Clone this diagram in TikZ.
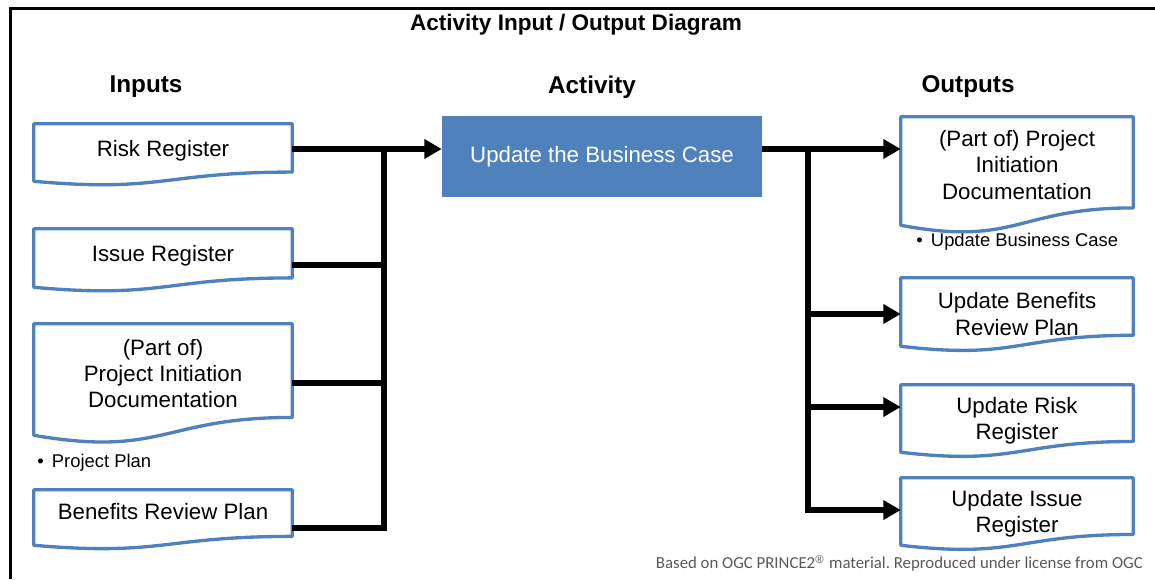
\documentclass[tikz,border=0pt]{standalone}
\usepackage{fontspec}
\setmainfont{Liberation Sans}
\newfontfamily\notefont{Carlito}
\usetikzlibrary{arrows.meta,calc}
\definecolor{docblue}{RGB}{79,129,189}
\definecolor{notegray}{RGB}{89,89,89}
\frenchspacing
% document outline with a wavy bottom around a named node, dropped by #1
\newcommand{\docframe}[2][0pt]{%
  \draw[docline] ([yshift=-#1]#2.north west) -- ([yshift=-#1]#2.north east)
    -- ($([yshift=-#1]#2.south east)!0.16!([yshift=-#1]#2.north east)$)
    .. controls ($([yshift=-#1]#2.south)!0.16!([yshift=-#1]#2.north)$)
       and ($([yshift=-#1]#2.south)!-0.2!([yshift=-#1]#2.north)$)
    .. ([yshift=-#1]#2.south west) -- cycle;}

\begin{document}
\begin{tikzpicture}[x=0.75pt,y=-0.75pt,
    docline/.style={draw=docblue,line width=2.5pt,line join=round},
    inbox/.style={minimum width=193.5pt,align=center,inner sep=0pt,
      font=\fontsize{16.7}{19.8}\selectfont},
    outbox/.style={inbox,minimum width=174pt},
    flow/.style={line width=4.3pt},
    feed/.style={flow,-{Triangle[length=13pt,width=14pt]}},
    heading/.style={font=\fontsize{18.2}{22}\selectfont\bfseries},
    bullet/.style={anchor=west,inner sep=0pt,font=\fontsize{13.8}{16}\selectfont}]
        \useasboundingbox (0,0) rectangle (1155,579);
        % ==== FRAME AND HEADINGS ====
        \draw[line width=2.5pt] (10.5,579) -- (10.5,8.5) -- (1155,8.5);
        \node[font=\fontsize{16.9}{20}\selectfont\bfseries] (title) at (576,25) {Activity Input / Output Diagram};
        \node[heading] (inhead) at (146,87) {Inputs};
        \node[heading] (acthead) at (592,87) {Activity};
        \node[heading] (outhead) at (968,87) {Outputs};

        % ==== INPUTS ====
        \node[inbox,minimum height=42.75pt] (rr) at (163,150.5) {Risk Register};
        \node[inbox,minimum height=43.5pt] (iss) at (163,256) {Issue Register};
        \node[inbox,minimum height=83.25pt] (pidin) at (163,373.5) {(Part of)\\Project Initiation\\Documentation};
        \node[inbox,minimum height=41.25pt] (brp) at (163,511.5) {Benefits Review Plan};
        \node[bullet] (pp) at (37,463) {\textbullet\hspace{0.45em}Project Plan};
        \foreach \d/\s in {rr/1.5pt,iss/1.5pt,pidin/4.5pt,brp/4.5pt} {\docframe[\s]{\d}}

        % ==== ACTIVITY ====
        \node[fill=docblue,text=white,minimum width=240pt,minimum height=60.75pt,inner sep=0pt,
          font=\fontsize{16.7}{19.8}\selectfont] (act) at (602,156.5) {Update the Business Case};

        % ==== OUTPUTS ====
        \node[outbox,minimum height=81pt] (pidout) at (1017,165) {(Part of) Project\\Initiation\\Documentation};
        \node[outbox,minimum height=51pt] (bro) at (1017,314) {Update Benefits\\Review Plan};
        \node[outbox,minimum height=50.25pt] (rro) at (1017,420.5) {Update Risk\\Register};
        \node[outbox,minimum height=50.25pt] (iro) at (1017,513.5) {Update Issue\\Register};
        \node[bullet] (ubc) at (916,242) {\textbullet\hspace{0.45em}Update Business Case};
        \foreach \d/\s in {pidout/4.5pt,bro/-1.5pt,rro/-1.5pt,iro/-1.5pt} {\docframe[\s]{\d}}

        % ==== CONNECTORS ====
        \coordinate (inbus) at (384,149);
        \draw[feed] (rr.east |- inbus) -- (act.west |- inbus);
        \draw[flow] ([yshift=-6.75pt]iss.east) -| (inbus);
        \draw[flow] ([yshift=-7.1pt]pidin.east) -| (inbus);
        \draw[flow] ([yshift=-12.4pt]brp.east) -| (inbus);
        \coordinate (outbus) at (808,149);
        \draw[feed] (act.east |- outbus) -- (pidout.west |- outbus);
        \draw[feed] (outbus) |- (bro.west);
        \draw[feed] (outbus) |- ([yshift=10.1pt]rro.west);
        \draw[feed] (outbus) |- ([yshift=2.6pt]iro.west);

        % ==== CREDIT ====
        \node[anchor=east,inner sep=0pt,text=notegray,font=\notefont\fontsize{12.6}{15}\selectfont] (credit) at (1143,563)
          {Based on OGC PRINCE2\raisebox{0.3em}{\rmfamily\fontsize{8.5}{8.5}\selectfont\textregistered}\hspace{0.1em} material. Reproduced under license from OGC};
\end{tikzpicture}
\end{document}
